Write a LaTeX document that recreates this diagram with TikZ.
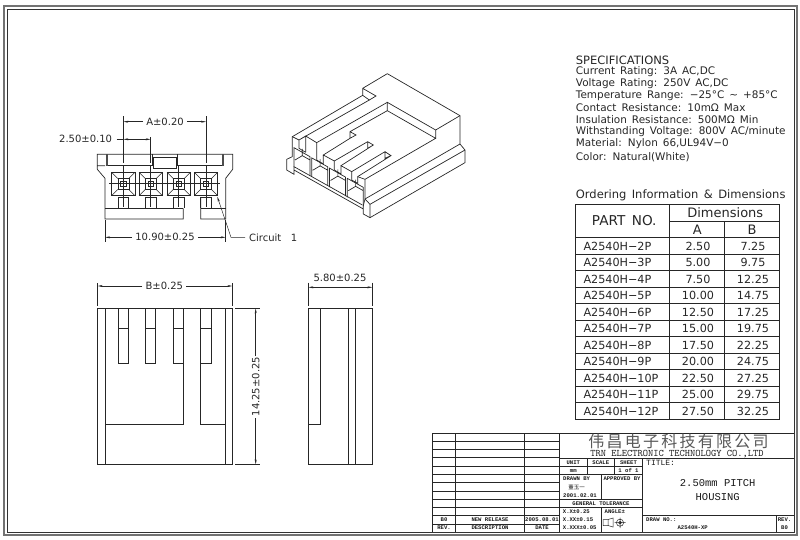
\documentclass[tikz,border=0pt]{standalone}
\usepackage{fontspec}
\usetikzlibrary{arrows.meta}
\setmainfont{Liberation Serif}
\newfontfamily\cad[WordSpace=1.5]{DejaVu Sans}
\newfontfamily\block{Liberation Mono}
\newfontfamily\cjk[LetterSpace=14]{Noto Sans CJK SC}
\newfontfamily\cjksmall{Noto Sans CJK SC}
\tikzset{
	part/.style={line width=.7pt,black!85},
	fine/.style={line width=.5pt,black!85},
	lead/.style={fine,->,>={Stealth[length=5pt,width=2pt]}},
	dim/.style={fine,<->,>={Stealth[length=5pt,width=2pt]}},
	txt/.style={font=\cad\fontsize{10}{10}\selectfont,inner sep=0pt,black!85},
	spec/.style={txt,anchor=west,font=\cad\fontsize{10.45}{10.45}\selectfont},
	cell/.style={txt,font=\cad\fontsize{11.2}{11.2}\selectfont},
	head/.style={txt,font=\cad\fontsize{13}{13}\selectfont},
	tb/.style={inner sep=0pt,black!90,font=\block\bfseries\fontsize{5.6}{6}\selectfont},
}
\begin{document}
\begin{tikzpicture}[x=1pt,y=-1pt,line join=miter]
	\useasboundingbox (0,0) rectangle (800,539);
	% sheet frame
	\draw[line width=1.1pt,black!55] (4,6) rectangle (797,535);
	\draw[line width=1pt,black!80] (7,9) rectangle (794,532);
	% front view
	\draw[part] (105,165.7)--(97.3,165.7)--(97.3,154.3)--(232.7,154.3)--(232.7,169.3)--(225.7,178.3)--(225.7,219)--(200.7,219)--(200.7,197.3) (183.3,208.3)--(183.3,219)--(105,219)--(105,178.3)--(97.3,169.3)--(97.3,154.3);
	\draw[part] (105,208.3)--(183.3,208.3) (200.7,208.3)--(225.7,208.3);
	\draw[part] (106,154.3)--(106,165.7)--(152.7,165.7)--(152.7,154.3) (153.5,157.3) rectangle (176,168.3) (177.3,165.7)--(177.3,154.3) (177.3,165.7)--(223.3,165.7)--(223.3,154.3);
	\draw[line width=1.3pt,black!70] (107,154.3)--(107,165.7) (223,154.3)--(223,165.7);
	\foreach \cx/\name in {123.3/a,150.7/b,178.7/c,206/d}{
		\draw[part] (\cx-11.7,172.3) rectangle (\cx+11.7,195.7);
		\draw[fine] (\cx-5.5,178.5) rectangle (\cx+5.5,189.5) (\cx-2.7,181.3) rectangle (\cx+2.7,186.7);
		\draw[fine] (\cx-11.7,172.3)--(\cx-5.5,178.5) (\cx+11.7,172.3)--(\cx+5.5,178.5) (\cx-11.7,195.7)--(\cx-5.5,189.5) (\cx+11.7,195.7)--(\cx+5.5,189.5);
		\draw[part] (\cx-5.2,208.3)--(\cx-5.2,197.3)--(\cx+5.2,197.3)--(\cx+5.2,208.3);
		\draw[fine] (\cx,165)--(\cx,207);
	}
	\draw[fine] (109.3,183.7)--(220,183.7);
	% front view dimensions
	\draw[fine] (123.3,116)--(123.3,163) (206,116)--(206,163) (150.7,137)--(150.7,163);
	\node[txt] (pitchA) at (165,121.7) {A±0.20};
	\draw[lead] (pitchA.west)+(-3,0)--(123.3,121.7);
	\draw[lead] (pitchA.east)+(3,0)--(206,121.7);
	\node[txt,anchor=east] (pitchT) at (112.3,139.3) {2.50±0.10};
	\draw[dim] (123.3,139.3)--(150.7,139.3);
	\draw[fine] (116.7,139.3)--(123.3,139.3);
	\draw[fine] (105,220)--(105,241.7) (225.7,220)--(225.7,241.7);
	\node[txt] (widthF) at (165,237.3) {10.90±0.25};
	\draw[lead] (widthF.west)+(-3,0)--(105,237.3);
	\draw[lead] (widthF.east)+(3,0)--(225.7,237.3);
	\node[txt,anchor=west] (circ) at (249,237.3) {Circuit\ \ 1};
	\coordinate (circtip) at (217.3,196.7);
	\draw[lead] (circ.west)+(-4,0)--(231,237.3)--(circtip);
	% iso view
	\begin{scope}[xshift=280pt,yshift=-60pt,x=.3333pt,y=-.3333pt]
		\draw[part] (248,106)--(248,85)--(322,41)--(540,167)--(540,252)--(555,270)--(555,308)--(270,473)--(250,462)--(250,437)--(255,417)--(255,358) (248,85)--(288,108)--(268,120)--(248,106)--(37,230)--(37,290)--(20,298)--(20,330)--(42,343)--(42,320)--(247,435) (42,330)--(250,447);
		\draw[part] (540,167)--(467,210)--(467,235)--(322,152)--(322,127)--(467,210) (467,235)--(255,358)--(233,350);
		\draw[part] (268,120)--(57,240)--(37,230) (57,240)--(57,265)--(77,277) (57,240)--(77,228)--(77,277);
		\draw[part] (77,228)--(110,248)--(322,127) (110,248)--(110,300)--(130,312)--(130,285) (322,152)--(210,215)--(210,235)--(228,225)--(210,215) (210,235)--(130,285)--(163,303)--(163,330)--(183,342)--(183,317)--(215,335)--(215,360)--(233,370)--(233,350);
		\draw[part] (163,303)--(263,245)--(280,255)--(183,317) (263,245)--(263,265)--(280,255);
		\draw[part] (215,335)--(315,275)--(333,287)--(233,350) (315,275)--(315,295)--(333,287);
		\draw[part] (540,252)--(255,417) (555,270)--(270,433)--(270,473) (255,417)--(270,433);
		\foreach \i in {0,1,2,3}{
			\begin{scope}[xshift=\i*17.77pt,yshift=-\i*10.23pt]
				\draw[part] (42,320)--(42,263)--(90,290)--(90,347) (45,300)--(67,287)--(90,300) (67,287)--(67,267);
			\end{scope}
		}
	\end{scope}
	% bottom view
	\draw[part] (97.7,308.3) rectangle (232.3,464.3) (105,308.3)--(105,464.3) (225.3,308.3)--(225.3,464.3);
	\foreach \sx in {118.3,145.3,173.3,200.7}{
		\draw[part] (\sx,308.3)--(\sx,363.3)--(\sx+10.3,363.3)--(\sx+10.3,308.3) (\sx,328)--(\sx+10.3,328);
	}
	\draw[part] (105,424)--(183.6,424)--(183.6,363.3) (225.3,424)--(200.7,424)--(200.7,363.3);
	\draw[fine] (97.7,283.3)--(97.7,306) (232.3,283.3)--(232.3,306);
	\node[txt] (widthB) at (164.3,286) {B±0.25};
	\draw[lead] (widthB.west)+(-3,0)--(97.7,286);
	\draw[lead] (widthB.east)+(3,0)--(232.3,286);
	\draw[fine] (235,308.3)--(260,308.3) (235,464.3)--(260,464.3);
	\node[txt,rotate=90] (heightB) at (255.7,386.7) {14.25±0.25};
	\draw[lead] (255.7,356)--(255.7,308.3);
	\draw[lead] (255.7,418.3)--(255.7,464.3);
	% side view
	\draw[part] (308.3,308.3) rectangle (372.3,464.3) (320.3,308.3)--(320.3,424)--(308.3,424) (348,308.3)--(348,464.3) (355.3,308.3)--(355.3,464.3);
	\draw[fine] (308.3,282.7)--(308.3,306) (372.3,282.7)--(372.3,306);
	\node[txt] (depthS) at (340,278.3) {5.80±0.25};
	\draw[dim] (308.3,287.3)--(372.3,287.3);
	% specifications
	\foreach \y/\line [count=\n] in {71.7/{Current Rating: 3A AC,DC},83.7/{Voltage Rating: 250V AC,DC},95.7/{Temperature Range: −25°C \textasciitilde\ +85°C},107.5/{Contact Resistance: 10mΩ Max},119.7/{Insulation Resistance: 500MΩ Min},132/{Withstanding Voltage: 800V AC/minute},144/{Material: Nylon 66,UL94V−0},157.3/{Color: Natural(White)}}{
		\node[spec] (line\n) at (575.7,\y) {\line};
	}
	\node[spec,font=\cad\fontsize{11.5}{12}\selectfont] (spectitle) at (575.7,60) {SPECIFICATIONS};
	\node[spec,font=\cad\fontsize{11.5}{12}\selectfont] (ordertitle) at (575.7,195) {Ordering Information \& Dimensions};
	% ordering table
	\draw[part] (575.7,204) rectangle (779,419.3) (669.7,204)--(669.7,419.3) (724.7,221.7)--(724.7,419.3) (669.7,221.7)--(779,221.7);
	\node[head,font=\cad\fontsize{13.6}{14}\selectfont] (partno) at (624.2,221) {PART NO.};
	\node[head] (dims) at (725.3,212.7) {Dimensions};
	\node[head] (colA) at (697.2,230) {A};
	\node[head] (colB) at (752,230) {B};
	\foreach \part/\va/\vb [count=\n from 0] in {2/2.50/7.25,3/5.00/9.75,4/7.50/12.25,5/10.00/14.75,6/12.50/17.25,7/15.00/19.75,8/17.50/22.25,9/20.00/24.75,10/22.50/27.25,11/25.00/29.75,12/27.50/32.25}{
		\draw[part] (575.7,237.7+\n*16.51)--(779,237.7+\n*16.51);
		\node[cell,anchor=west] (name\n) at (583.3,246+\n*16.51) {A2540H−\part P};
		\node[cell] (a\n) at (698,246+\n*16.51) {\va};
		\node[cell] (b\n) at (753,246+\n*16.51) {\vb};
	}
	% title block
	\draw[part] (432.7,433)--(794,433) (432.7,433)--(432.7,532) (455.3,433)--(455.3,532) (524.3,433)--(524.3,532) (559.3,433)--(559.3,532);
	\foreach \n in {1,...,11}{
		\draw[part] (432.7,433+\n*8.27)--(559.3,433+\n*8.27);
	}
	\draw[part] (559.3,458.3)--(794,458.3) (559.3,466.3)--(642.7,466.3) (559.3,474.7)--(642.7,474.7) (559.3,499.7)--(642.7,499.7) (559.3,507.7)--(642.7,507.7) (642.7,515.7)--(794,515.7);
	\draw[part] (587.3,458.3)--(587.3,474.7) (614.3,458.3)--(614.3,474.7) (642.7,458.3)--(642.7,532) (601.5,474.7)--(601.5,499.7) (601.5,507.7)--(601.5,532) (776,515.7)--(776,532);
	\node[inner sep=0pt,black!65,font=\cjk\fontsize{16}{16}\selectfont] (company) at (678.5,441.5) {伟昌电子科技有限公司};
	\node[tb,font=\ttfamily\fontsize{10}{10}\selectfont] (companyen) at (677,453.7) {TRN ELECTRONIC TECHNOLOGY CO.,LTD};
	\node[tb] (unit) at (573.3,462.3) {UNIT};
	\node[tb] (scale) at (600.8,462.3) {SCALE};
	\node[tb] (sheet) at (628.5,462.3) {SHEET};
	\node[tb] (mm) at (573.3,470.5) {mm};
	\node[tb] (oneof) at (628.5,470.5) {1 of 1};
	\node[tb,anchor=west] (drawn) at (563,478.7) {DRAWN BY};
	\node[tb,font=\cjksmall\fontsize{5.5}{6}\selectfont] (drawer) at (576.7,487) {董玉一};
	\node[tb] (drawndate) at (580,495.5) {2001.02.01};
	\node[tb] (approved) at (622,478.7) {APPROVED BY};
	\node[tb] (general) at (601,503.7) {GENERAL TOLERANCE};
	\node[tb,anchor=west] (tolone) at (562.7,511.7) {X.X±0.25};
	\node[tb,anchor=west] (toltwo) at (562.7,520) {X.XX±0.15};
	\node[tb,anchor=west] (tolthree) at (562.7,527.7) {X.XXX±0.05};
	\node[tb,anchor=west] (angle) at (604.5,511.7) {ANGLE±};
	\draw[fine] (603,519.5)--(603,525.5)--(608,525.5)--(613,527)--(613,518)--(608,519.5)--cycle (608,519.5)--(608,525.5);
	\draw[fine] (620,522.7) circle (3.6) (620,522.7) circle (1.6) (614.5,522.7)--(625.5,522.7) (620,517.5)--(620,528);
	\node[tb,font=\block\fontsize{8}{8}\selectfont,anchor=west] (title) at (646,463.3) {TITLE:};
	\node[tb,font=\block\fontsize{10.5}{11}\selectfont] (titleone) at (717.7,483.3) {2.50mm PITCH};
	\node[tb,font=\block\fontsize{10.5}{11}\selectfont] (titletwo) at (717.7,496.7) {HOUSING};
	\node[tb,anchor=west] (drawno) at (646,520) {DRAW NO.:};
	\node[tb] (drawnum) at (692.7,528) {A2540H-XP};
	\node[tb] (rev) at (784.5,520) {REV.};
	\node[tb] (revval) at (784.5,528) {B0};
	\node[tb] (revrow) at (444,519.7) {B0};
	\node[tb] (revhead) at (444,528) {REV.};
	\node[tb] (newrel) at (490,519.7) {NEW RELEASE};
	\node[tb] (deschead) at (490,528) {DESCRIPTION};
	\node[tb] (reldate) at (542,519.7) {2005.08.01};
	\node[tb] (datehead) at (542,528) {DATE};
\end{tikzpicture}
\end{document}
